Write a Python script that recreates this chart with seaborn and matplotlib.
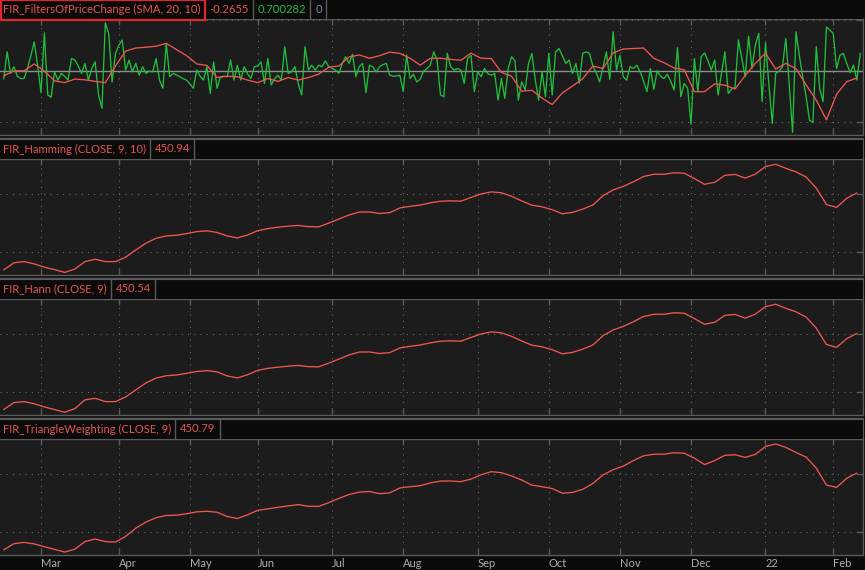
import numpy as np
import pandas as pd
import matplotlib
matplotlib.use("Agg")
import matplotlib.pyplot as plt
import seaborn as sns
from matplotlib.lines import Line2D
from matplotlib.patches import Rectangle

# trading calendar (NYSE holidays inside the window)
holidays = ["2021-02-15", "2021-04-02", "2021-05-31", "2021-07-05",
            "2021-09-06", "2021-11-25", "2021-12-24", "2022-01-17"]
dates = pd.bdate_range("2021-02-11", "2022-02-11", freq="C", holidays=holidays)

# FIR filter of price change (one value per bar)
green_fir = [
    -0.31, 0.75, -0.09, 0.17, -0.20, -0.29, -0.29, 0.10, 0.60, 1.14,
    0.23, -0.84, 1.49, -0.93, -1.02, -0.03, -0.35, -0.09, -0.20, -0.35,
    0.49, 0.43, 0.20, -0.09, 0.30, -0.35, 0.10, 0.36, -0.93, -1.45,
    1.88, 1.47, -0.42, 0.69, 1.01, 1.21, 0.04, 0.43, -0.03, 0.30,
    -0.16, 0.17, -0.09, 0.00, -0.03, 0.49, -0.35, -0.67, 1.08, -0.22,
    -0.09, -0.15, -0.22, -0.30, -0.35, -0.50, -0.67, 0.04, -0.20, -0.35,
    0.17, -0.87, 0.36, -0.67, -0.22, -0.20, -0.22, 0.43, -0.35, 0.23,
    -0.35, 0.17, -0.10, -0.29, 0.17, 0.20, 0.36, -0.48, 0.49, -0.54,
    -0.30, -0.16, -0.35, 0.95, -0.09, -0.03, 0.17, -0.50, -0.93, 0.95,
    0.04, 0.23, 0.04, 0.23, 0.17, 0.40, 0.17, 0.10, 0.04, -0.09,
    0.30, 0.56, 0.30, 0.66, -0.22, 0.17, 0.30, -0.84, 0.23, 0.17,
    -0.03, 0.17, 0.25, 0.30, -0.16, -0.20, -0.19, -0.16, -0.80, 0.62,
    -0.29, -0.12, -0.42, -0.32, 0.00, 0.10, 0.23, 0.75, 0.43, -0.93,
    -1.00, 0.69, 0.17, 0.04, 0.10, 0.04, -0.48, 0.49, 0.62, -0.80,
    -0.03, -0.22, 0.10, -0.10, -0.16, -0.09, -1.13, -0.29, -1.06, 0.10,
    0.56, 0.40, -1.13, -0.42, -0.74, 0.30, 0.69, -0.35, -1.13, -0.03,
    -1.00, 0.69, -0.93, 0.75, 0.88, 0.60, 0.30, 0.43, -0.09, 0.30,
    -0.48, 0.69, 0.75, 0.69, 0.20, -0.06, -0.42, 0.15, 0.75, -0.32,
    1.53, 0.04, 0.62, -0.22, -0.35, 0.17, 0.10, 0.23, -0.03, -0.40,
    -0.80, 0.10, -0.71, 0.01, -0.20, -0.29, -0.12, -0.40, -0.74, 0.92,
    -1.00, -0.48, -0.67, -2.07, 0.49, -0.80, 0.56, 0.71, 0.40, 0.04,
    0.43, -0.93, -0.10, 0.75, -0.87, -0.70, -0.63, 1.21, 0.50, -0.22,
    1.36, 0.10, 1.01, 1.47, -1.19, 1.10, -0.50, -2.04, -0.09, 0.00,
    0.17, 1.27, -0.50, -2.39, 1.53, 0.60, -0.22, -1.00, -1.91, -2.00,
    0.95, -0.67, -1.19, 1.72, 1.60, 1.47, 0.10, 0.62, 0.69, 0.30,
    -0.06, 0.23, -0.35, 0.70,
]

# SMA(20) of the filter, read every 3rd bar
red_sma = [
    -0.19, 0.01, 0.01, 0.28, 0.00, -0.38, -0.45, -0.31, -0.34,
    -0.40, -0.45, 0.20, 0.78, 0.90, 0.93, 0.97, 1.08, 0.84,
    0.60, 0.28, 0.22, -0.25, -0.20, -0.22, -0.35, -0.45, -0.29,
    -0.40, -0.25, -0.35, -0.25, -0.12, 0.15, 0.20, 0.55, 0.63,
    0.50, 0.60, 0.74, 0.69, 0.50, 0.23, 0.50, 0.50, 0.46,
    0.42, 0.70, 0.50, 0.49, -0.05, -0.20, -0.78, -0.75, -1.05,
    -1.30, -0.85, -0.58, -0.30, 0.20, 0.10, 0.71, 0.86, 0.88,
    0.90, 0.50, 0.33, 0.12, 0.05, -0.80, -0.80, -0.50, -0.55,
    -0.70, -0.17, 0.30, 0.70, 0.08, 0.30, 0.10, -0.54, -1.13,
    -1.90, -0.90, -0.41, -0.27,
]

# smoothed closes, read every 3rd bar
hamming = [
    384.9, 391.0, 392.0, 390.0, 387.2, 385.1, 382.7, 385.6, 392.0,
    394.0, 392.0, 392.0, 395.8, 402.0, 407.8, 412.0, 414.0, 414.6,
    416.0, 417.7, 418.4, 417.0, 414.0, 412.3, 414.8, 418.5, 420.3,
    421.5, 422.4, 423.0, 422.0, 421.8, 425.0, 428.5, 432.0, 434.5,
    434.6, 433.2, 434.0, 438.0, 439.4, 440.5, 442.4, 443.8, 444.1,
    443.8, 447.0, 450.0, 451.8, 451.0, 448.0, 444.0, 440.4, 439.0,
    436.5, 433.0, 434.2, 437.0, 440.5, 448.5, 453.5, 456.5, 460.5,
    465.0, 466.9, 466.9, 468.2, 467.8, 463.2, 458.3, 460.0, 466.0,
    466.8, 463.6, 467.0, 473.5, 475.5, 472.0, 469.0, 464.5, 455.0,
    441.0, 438.5, 446.3, 450.9,
]
hann = [
    385.2, 391.2, 392.0, 390.2, 387.4, 385.2, 382.8, 386.0, 393.5,
    394.8, 392.0, 392.0, 396.0, 402.0, 408.0, 412.2, 414.2, 414.8,
    416.2, 417.8, 418.6, 417.5, 414.0, 412.3, 415.0, 418.8, 420.5,
    421.5, 422.4, 423.0, 422.0, 421.8, 425.0, 428.5, 432.0, 434.5,
    434.6, 433.2, 434.0, 438.0, 439.4, 440.5, 442.4, 443.8, 444.1,
    443.8, 447.0, 450.0, 451.8, 451.0, 448.0, 444.0, 440.4, 439.0,
    436.5, 433.0, 434.2, 437.0, 440.5, 448.5, 453.5, 456.5, 460.5,
    465.0, 466.9, 466.9, 468.2, 467.8, 463.2, 458.3, 460.0, 466.0,
    466.8, 463.6, 467.0, 473.5, 475.5, 472.0, 469.0, 464.5, 455.0,
    441.0, 438.5, 446.0, 450.5,
]
triangle = [
    384.9, 390.2, 391.3, 390.0, 387.6, 385.3, 383.0, 385.5, 392.0,
    394.2, 392.0, 391.6, 396.5, 403.5, 408.8, 412.5, 414.4, 414.6,
    415.9, 417.5, 418.0, 417.2, 413.5, 411.8, 415.0, 418.8, 420.1,
    421.4, 422.6, 423.7, 422.3, 422.2, 425.4, 429.1, 432.4, 434.4,
    435.0, 433.1, 433.8, 438.0, 439.1, 439.9, 442.3, 443.9, 444.0,
    443.4, 445.6, 449.3, 452.0, 451.1, 448.3, 444.8, 440.4, 439.1,
    437.5, 433.5, 434.2, 436.8, 441.8, 449.2, 453.6, 456.8, 461.5,
    465.6, 466.9, 467.0, 468.2, 467.8, 463.5, 458.1, 461.5, 466.0,
    466.5, 464.2, 466.8, 473.5, 475.8, 472.8, 468.5, 464.5, 455.0,
    440.5, 438.5, 446.3, 450.8,
]

headers = [
    [("FIR_FiltersOfPriceChange (SMA, 20, 10)", "red"), ("-0.2655", "red"),
     ("0.700282", "green"), ("0", "blue")],
    [("FIR_Hamming (CLOSE, 9, 10)", "red"), ("450.94", "red")],
    [("FIR_Hann (CLOSE, 9)", "red"), ("450.54", "red")],
    [("FIR_TriangleWeighting (CLOSE, 9)", "red"), ("450.79", "red")],
]

BG = "#0b0b0b"
PANEL = "#1c1c1c"
GREY = "#5a5a5a"
DOT = "#6e6e6e"
RED = "#f0564f"
GREEN = "#1fbf3c"
TXT = {"red": "#e5554f", "green": "#2cb845", "blue": "#6f88a8"}
DOTS = (0, (1, 5))

sns.set_style("dark")
plt.rcParams["font.family"] = ["Lato", "DejaVu Sans"]

bars = np.arange(len(dates))
df = pd.DataFrame({"bar": bars, "fir": green_fir})
df3 = pd.DataFrame({"bar": bars[::3], "sma": red_sma, "hamming": hamming,
                    "hann": hann, "triangle": triangle})

s = pd.Series(bars, index=dates)
starts = s.groupby([dates.year, dates.month]).min().iloc[1:]
tick_pos = starts.values
tick_lab = [dates[i].strftime("%b") if dates[i].month != 1 else dates[i].strftime("%y")
            for i in tick_pos]

W, H = 865, 570
fig = plt.figure(figsize=(W / 100, H / 100), dpi=100)
fig.patch.set_facecolor(BG)


def box(x0, top, w, h):
    return [x0 / W, 1 - (top + h) / H, w / W, h / H]


PW = 863
XLIM = (-1.11, 253.8)


def style_panel(ax, yl, yt):
    ax.set_facecolor(PANEL)
    ax.set_xlim(*XLIM)
    ax.set_ylim(*yl)
    ax.set_xticks(tick_pos)
    ax.set_yticks(yt)
    ax.set_xlabel("")
    ax.set_ylabel("")
    ax.grid(True, color=DOT, linestyle=DOTS, linewidth=0.75)
    ax.tick_params(axis="x", direction="in", length=4, color=GREY, top=True,
                   bottom=True, labelbottom=False, width=1)
    ax.tick_params(axis="y", direction="in", length=4, color=GREY, left=False,
                   right=True, labelleft=False, labelright=False, width=1)
    ax.spines["left"].set_visible(False)
    for k in ["top", "bottom", "right"]:
        ax.spines[k].set_visible(True)
        ax.spines[k].set_color(GREY)
        ax.spines[k].set_linewidth(1)


renderer = fig.canvas.get_renderer()


def draw_header(top, h, items, boxed=False):
    hax = fig.add_axes(box(0, top, PW, h))
    hax.set_facecolor(BG)
    hax.set_xlim(0, PW)
    hax.set_ylim(0, 1)
    hax.set_xticks([])
    hax.set_yticks([])
    for k in ["left", "bottom"]:
        hax.spines[k].set_visible(False)
    for k in ["top", "right"]:
        hax.spines[k].set_visible(not boxed)
        hax.spines[k].set_color(GREY)
    x = 3
    for i, (txt, col) in enumerate(items):
        t = hax.text(x, 0.5, txt, color=TXT[col], va="center", ha="left",
                     fontsize=8.1)
        w = t.get_window_extent(renderer).width
        sep = x + w + 4
        if boxed and i == 0:
            hax.add_patch(Rectangle((0.5, -0.04), sep - 0.5, 1.02, fill=False,
                                    edgecolor="#e0262c", lw=1.6, clip_on=False))
        else:
            hax.plot([sep, sep], [0, 1], color=GREY, lw=1)
        x = sep + 5


# panel 1: filter of price change
ax1 = fig.add_axes(box(0, 19, PW, 116))
sns.lineplot(data=df, x="bar", y="fir", ax=ax1, color=GREEN, lw=0.95)
sns.lineplot(data=df3, x="bar", y="sma", ax=ax1, color=RED, lw=0.95)
ax1.axhline(0, color="#8e8e8e", lw=1, zorder=1.5)
style_panel(ax1, (-2.49, 2.03), [-2, 0, 2])
ax1.yaxis.grid(False)
for yv in [-2, 2]:
    ax1.axhline(yv, color=DOT, linestyle=DOTS, lw=0.75, zorder=0.5)
draw_header(0, 19, headers[0], boxed=True)

# price panels
price_cols = ["hamming", "hann", "triangle"]
tops = [159, 299, 439]
axes = [ax1]
for col, top, hdr in zip(price_cols, tops, headers[1:]):
    ax = fig.add_axes(box(0, top, PW, 116))
    sns.lineplot(data=df3, x="bar", y=col, ax=ax, color=RED, lw=0.95)
    style_panel(ax, (380.5, 480.0), [400, 450])
    draw_header(top - 20, 20, hdr)
    axes.append(ax)

# thin double rule between panels
for yb in [137.5, 277.5, 417.5]:
    fig.add_artist(Line2D([0, PW / W], [1 - yb / H, 1 - yb / H],
                          transform=fig.transFigure, color=GREY, lw=1))

ax4 = axes[-1]
ax4.set_xticks(tick_pos, tick_lab)
ax4.tick_params(axis="x", labelbottom=True, labelsize=8, labelcolor="#a8aeb5", pad=2)
for lab in ax4.get_xticklabels():
    lab.set_horizontalalignment("left")

fig.savefig("out.png", dpi=100, facecolor=BG)
